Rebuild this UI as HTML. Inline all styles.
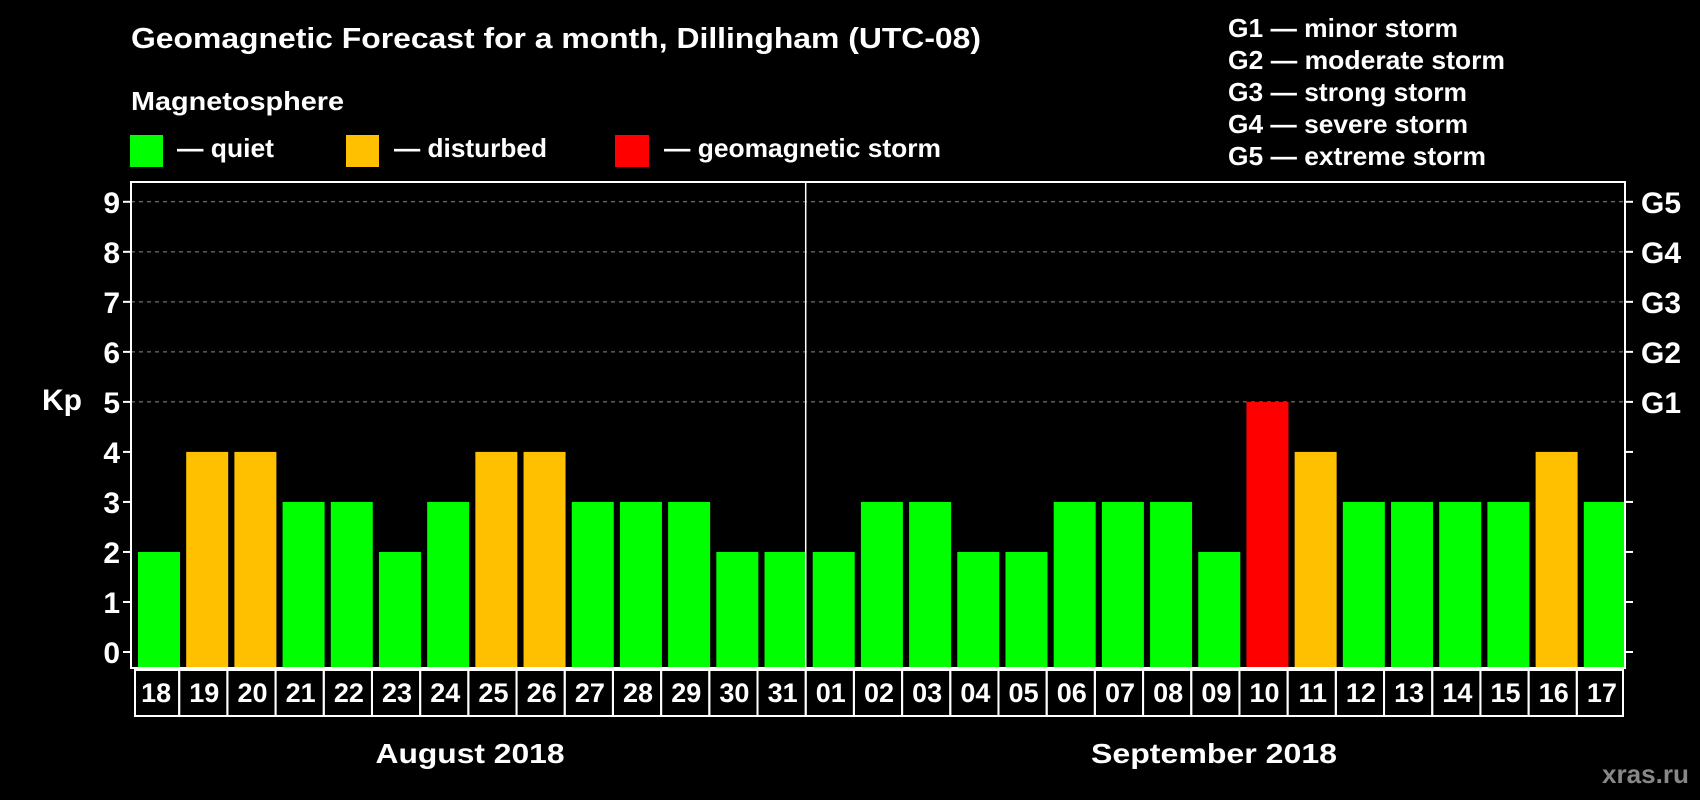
<!DOCTYPE html>
<html><head><meta charset="utf-8"><style>
html,body{margin:0;padding:0;background:#000;width:1700px;height:800px;overflow:hidden}
svg{display:block}
text{font-family:"Liberation Sans",Arial,sans-serif;font-weight:bold;fill:#fff}
</style></head><body>
<svg id="chart" width="1700" height="800">
<text x="131" y="48" font-size="29" textLength="850" lengthAdjust="spacingAndGlyphs">Geomagnetic Forecast for a month, Dillingham (UTC-08)</text>
<text x="131" y="110" font-size="26" textLength="213" lengthAdjust="spacingAndGlyphs">Magnetosphere</text>
<g><rect x="130" y="135" width="33" height="32" fill="#00ff00"/><text x="177" y="157" font-size="26" textLength="97" lengthAdjust="spacingAndGlyphs">— quiet</text></g>
<g><rect x="346" y="135" width="33" height="32" fill="#ffc000"/><text x="394" y="157" font-size="26" textLength="153" lengthAdjust="spacingAndGlyphs">— disturbed</text></g>
<g><rect x="615" y="135" width="34" height="32" fill="#ff0000"/><text x="664" y="157" font-size="26" textLength="277" lengthAdjust="spacingAndGlyphs">— geomagnetic storm</text></g>
<g font-size="26">
<text x="1228" y="37" textLength="230" lengthAdjust="spacingAndGlyphs">G1 — minor storm</text>
<text x="1228" y="69" textLength="277" lengthAdjust="spacingAndGlyphs">G2 — moderate storm</text>
<text x="1228" y="101" textLength="239" lengthAdjust="spacingAndGlyphs">G3 — strong storm</text>
<text x="1228" y="133" textLength="240" lengthAdjust="spacingAndGlyphs">G4 — severe storm</text>
<text x="1228" y="165" textLength="258" lengthAdjust="spacingAndGlyphs">G5 — extreme storm</text>
</g>
<text x="42" y="410" font-size="30">Kp</text>
<g id="plot"></g>
<text x="470" y="763" font-size="28" text-anchor="middle" textLength="189" lengthAdjust="spacingAndGlyphs">August 2018</text>
<text x="1214" y="763" font-size="28" text-anchor="middle" textLength="246" lengthAdjust="spacingAndGlyphs">September 2018</text>
<text x="1689" y="783" font-size="26" text-anchor="end" textLength="87" lengthAdjust="spacingAndGlyphs" style="fill:#888">xras.ru</text>
</svg>
<script>
const days=["18","19","20","21","22","23","24","25","26","27","28","29","30","31","01","02","03","04","05","06","07","08","09","10","11","12","13","14","15","16","17"];
const kp=[2,4,4,3,3,2,3,4,4,3,3,3,2,2,2,3,3,2,2,3,3,3,2,5,4,3,3,3,3,4,3];
const yTicks=[0,1,2,3,4,5,6,7,8,9];
const gLabels=["G1","G2","G3","G4","G5"];
const NS="http://www.w3.org/2000/svg";
const L=131,R=1625,T=182,B=668;
const pitch=(R-L)/days.length;
const y=v=>652-v*(652-201.8)/9;
const x=i=>L+i*pitch;
const g=document.getElementById('plot');
function mk(t,a,p){const e=document.createElementNS(NS,t);for(const k in a)e.setAttribute(k,a[k]);(p||g).appendChild(e);return e;}
yTicks.forEach(v=>{
  if(v>=5){const l=mk('line',{x1:L,x2:R,y1:y(v),y2:y(v),stroke:'#888','stroke-dasharray':'4,4','stroke-width':1});
  
  }
  const t1=mk('line',{x1:L-8,x2:L,y1:y(v),y2:y(v),stroke:'#fff','stroke-width':2});
  
  
  const t2=mk('line',{x1:R,x2:R+8,y1:y(v),y2:y(v),stroke:'#fff','stroke-width':2});
  
  
  const lb=mk('text',{x:L-11,y:y(v)+11,'font-size':30,'text-anchor':'end'});lb.textContent=v;
  
  
});
gLabels.forEach((s,i)=>{const t=mk('text',{x:R+16,y:y(5+i)+11,'font-size':30});t.textContent=s;
  
  });
kp.forEach((v,i)=>{
  const c=v>=5?'#ff0000':v>=4?'#ffc000':'#00ff00';
  const r=mk('rect',{x:x(i)+7,y:y(v),width:42,height:B-y(v),fill:c});
  
  
  const bx=mk('rect',{x:x(i)+(i==0?4:0),y:670,width:pitch-(i==0?4:0)-(i==days.length-1?2:0),height:46,fill:'none',stroke:'#fff','stroke-width':2});
  
  
  const t=mk('text',{x:x(i)+pitch/2+1,y:702,'font-size':27,'text-anchor':'middle'});t.textContent=days[i];
  
  
});
const fr=mk('rect',{x:L,y:T,width:R-L,height:B-T,fill:'none',stroke:'#fff','stroke-width':2});


const dv=mk('line',{x1:x(14),x2:x(14),y1:T,y2:B,stroke:'#fff','stroke-width':1.5});


</script>
</body></html>
